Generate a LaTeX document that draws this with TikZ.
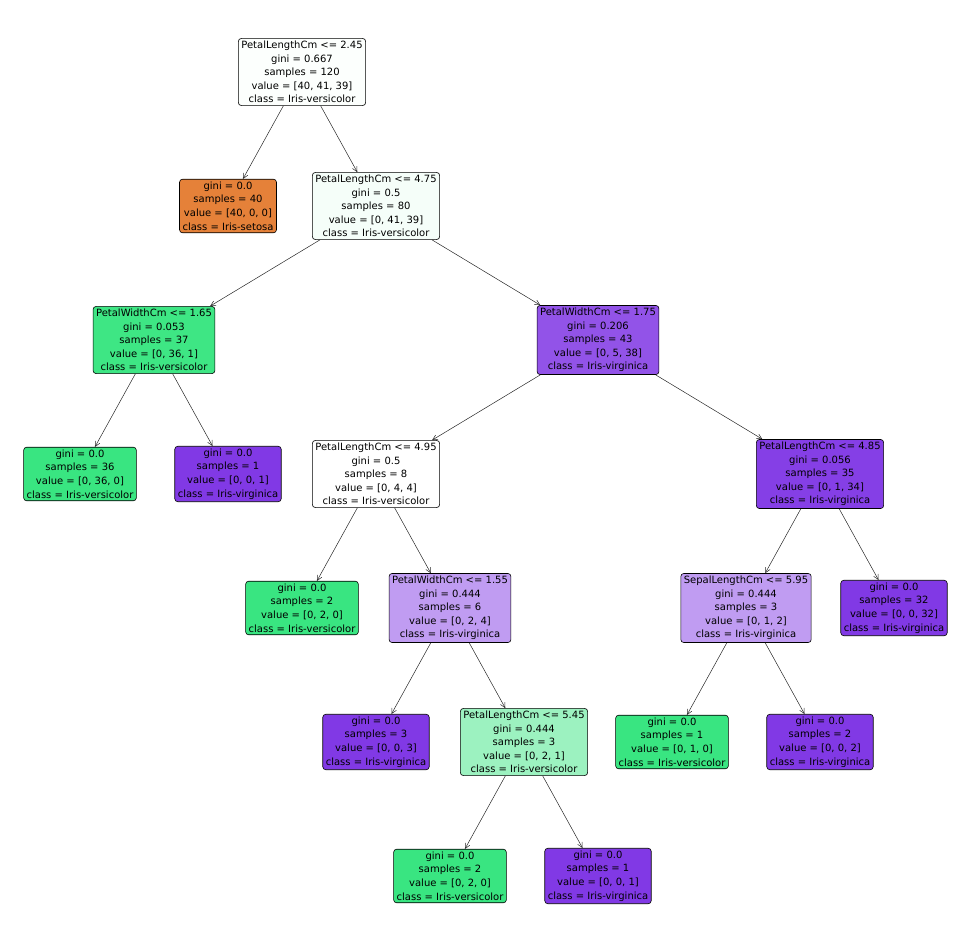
\documentclass[tikz,border=0pt]{standalone}
\usepackage{fontspec}
\setmainfont{DejaVu Sans}
\usetikzlibrary{arrows.meta}
\definecolor{cset}{HTML}{E58139}
\definecolor{cver}{HTML}{39E581}
\definecolor{cvir}{HTML}{8139E5}
\definecolor{croot}{HTML}{FCFFFD}
\definecolor{cn2}{HTML}{F5FEF9}
\definecolor{cn3}{HTML}{3EE684}
\definecolor{cn4}{HTML}{9253E8}
\definecolor{cn6}{HTML}{853FE6}
\definecolor{chv}{HTML}{C09CF2}
\definecolor{chg}{HTML}{9CF2C0}
\tikzset{
 tn/.style={draw=black, line width=0.6pt, rounded corners=3pt, align=center, font=\fontsize{10}{13.6}\selectfont, inner xsep=3pt, inner ysep=2.5pt},
 ed/.style={-{Straight Barb[length=5pt,width=5pt]}, line width=0.5pt, draw=black!85}
}
\begin{document}
\begin{tikzpicture}[x=1pt,y=-1pt]
\useasboundingbox (0,0) rectangle (975,950);
\node[tn,fill=croot] (r) at (302,72) {PetalLengthCm <= 2.45\\gini = 0.667\\samples = 120\\value = [40, 41, 39]\\class = Iris-versicolor};
\node[tn,fill=cset] (a) at (228,206) {gini = 0.0\\samples = 40\\value = [40, 0, 0]\\class = Iris-setosa};
\node[tn,fill=cn2] (b) at (376,206) {PetalLengthCm <= 4.75\\gini = 0.5\\samples = 80\\value = [0, 41, 39]\\class = Iris-versicolor};
\node[tn,fill=cn3] (c) at (154,340) {PetalWidthCm <= 1.65\\gini = 0.053\\samples = 37\\value = [0, 36, 1]\\class = Iris-versicolor};
\node[tn,fill=cn4] (d) at (598,340) {PetalWidthCm <= 1.75\\gini = 0.206\\samples = 43\\value = [0, 5, 38]\\class = Iris-virginica};
\node[tn,fill=cver] (e) at (80,474) {gini = 0.0\\samples = 36\\value = [0, 36, 0]\\class = Iris-versicolor};
\node[tn,fill=cvir] (f) at (228,474) {gini = 0.0\\samples = 1\\value = [0, 0, 1]\\class = Iris-virginica};
\node[tn,fill=white] (g) at (376,474) {PetalLengthCm <= 4.95\\gini = 0.5\\samples = 8\\value = [0, 4, 4]\\class = Iris-versicolor};
\node[tn,fill=cn6] (h) at (820,474) {PetalLengthCm <= 4.85\\gini = 0.056\\samples = 35\\value = [0, 1, 34]\\class = Iris-virginica};
\node[tn,fill=cver] (i) at (302,608) {gini = 0.0\\samples = 2\\value = [0, 2, 0]\\class = Iris-versicolor};
\node[tn,fill=chv] (j) at (450,608) {PetalWidthCm <= 1.55\\gini = 0.444\\samples = 6\\value = [0, 2, 4]\\class = Iris-virginica};
\node[tn,fill=chv] (k) at (746,608) {SepalLengthCm <= 5.95\\gini = 0.444\\samples = 3\\value = [0, 1, 2]\\class = Iris-virginica};
\node[tn,fill=cvir] (l) at (894,608) {gini = 0.0\\samples = 32\\value = [0, 0, 32]\\class = Iris-virginica};
\node[tn,fill=cvir] (m) at (376,742) {gini = 0.0\\samples = 3\\value = [0, 0, 3]\\class = Iris-virginica};
\node[tn,fill=chg] (n) at (524,742) {PetalLengthCm <= 5.45\\gini = 0.444\\samples = 3\\value = [0, 2, 1]\\class = Iris-versicolor};
\node[tn,fill=cver] (o) at (672,742) {gini = 0.0\\samples = 1\\value = [0, 1, 0]\\class = Iris-versicolor};
\node[tn,fill=cvir] (p) at (820,742) {gini = 0.0\\samples = 2\\value = [0, 0, 2]\\class = Iris-virginica};
\node[tn,fill=cver] (q) at (450,876) {gini = 0.0\\samples = 2\\value = [0, 2, 0]\\class = Iris-versicolor};
\node[tn,fill=cvir] (s) at (598,876) {gini = 0.0\\samples = 1\\value = [0, 0, 1]\\class = Iris-virginica};
\foreach \u/\v in {r/a,r/b,b/c,b/d,c/e,c/f,d/g,d/h,g/i,g/j,h/k,h/l,j/m,j/n,k/o,k/p,n/q,n/s}
  \draw[ed] (\u) -- (\v);
\end{tikzpicture}
\end{document}
